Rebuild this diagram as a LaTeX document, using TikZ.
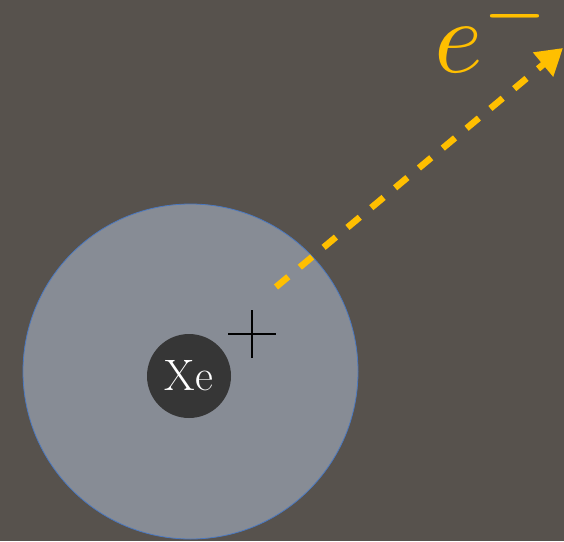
\documentclass[tikz,border=0pt]{standalone}
\usetikzlibrary{arrows.meta}
\definecolor{bgc}{HTML}{57524D}
\definecolor{shellc}{HTML}{878C95}
\definecolor{shelledge}{HTML}{4A78C0}
\definecolor{corec}{HTML}{363636}
\definecolor{elc}{HTML}{FFBF00}
\tikzset{
  shell/.style={circle, fill=shellc, draw=shelledge, line width=0.8pt, minimum size=335pt, inner sep=0pt},
  core/.style={circle, fill=corec, minimum size=84pt, inner sep=0pt, text=white, font=\fontsize{44}{44}\selectfont},
  electron/.style={draw=elc, line width=6.5pt, dash pattern=on 16pt off 15pt, -{Triangle[length=26pt,width=30pt]}},
  ellabel/.style={text=elc, inner sep=0pt},
}
\begin{document}
\begin{tikzpicture}[x=1pt,y=-1pt]
  \fill[bgc] (0,0) rectangle (564,541);
  \useasboundingbox (0,0) rectangle (564,541);
  \node[shell] (shell) at (190.5,371.5) {};
  \node[core] (xe) at (189,376) {Xe};
  \coordinate (pl) at (228,334);
  \coordinate (pr) at (276,334);
  \coordinate (pt) at (252,310);
  \coordinate (pb) at (252,358);
  \draw[line width=2pt] (pl) -- (pr) (pt) -- (pb);
  \coordinate (estart) at (276,287);
  \coordinate (eend) at (563,48);
  \draw[electron] (estart) -- (eend);
  \node[ellabel, anchor=base west] (el) at (434,72) {\scalebox{10.4}{$e^{-}$}};
\end{tikzpicture}
\end{document}
